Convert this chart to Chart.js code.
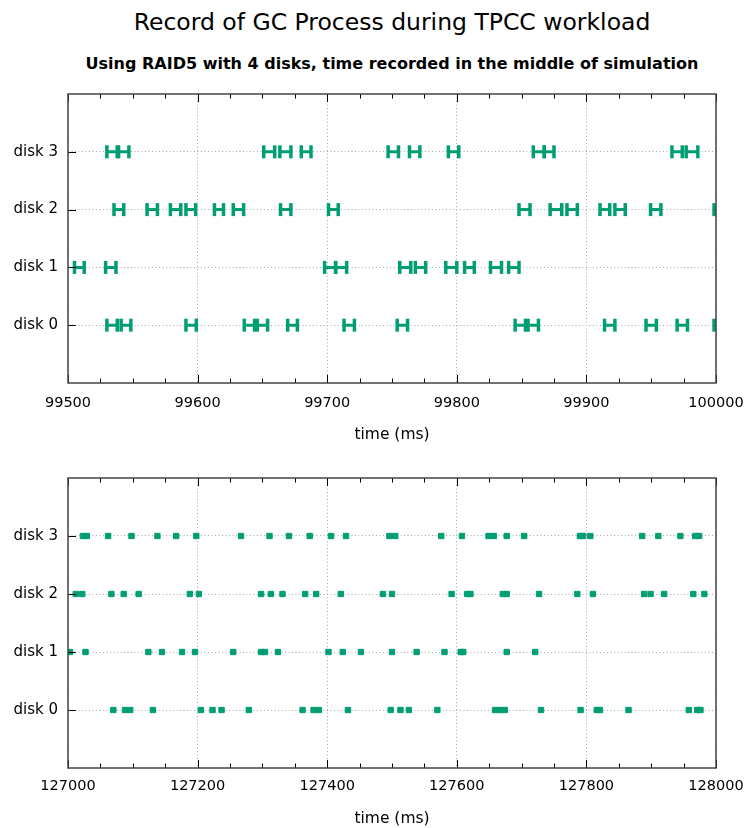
<!DOCTYPE html>
<html>
<head>
<meta charset="utf-8">
<script src="https://cdn.jsdelivr.net/npm/chart.js@4"></script>
<style>
  html, body { margin:0; padding:0; background:#fff; width:747px; height:828px; overflow:hidden; }
  .ttl { position:absolute; left:68px; width:648px; text-align:center; color:#000; font-family:'DejaVu Sans',sans-serif; white-space:nowrap; }
  #t1 { top:6px; font-size:23.5px; line-height:32px; }
  #t2 { top:53px; font-size:16px; line-height:22px; font-weight:bold; }
  .box { position:absolute; left:0; width:747px; }
</style>
</head>
<body>
<div id="t1" class="ttl">Record of GC Process during TPCC workload</div>
<div id="t2" class="ttl">Using RAID5 with 4 disks, time recorded in the middle of simulation</div>
<div class="box" style="top:80px;height:370px"><canvas id="c1"></canvas></div>
<div class="box" style="top:464px;height:364px"><canvas id="c2"></canvas></div>
<script>
// ---------- data ----------
const diskLabels = ['disk 0', 'disk 1', 'disk 2', 'disk 3'];

// top panel: GC intervals [start, end] in ms
const disk0Top = [[99530,99538],[99541,99548.5],[99591,99599],[99636,99644],[99646,99654],[99669.5,99677],[99713,99721],[99754,99762],[99845,99853],[99855,99863],[99914,99922],[99946,99954],[99970,99978],[99998.5,100007]];
const disk1Top = [[99505,99512.5],[99529,99537],[99698,99706.5],[99706.5,99715],[99756,99764.5],[99768,99776],[99791.5,99800],[99806,99813.5],[99826,99834.5],[99840,99848]];
const disk2Top = [[99535.5,99543],[99561,99569],[99579,99587],[99591,99598.5],[99613,99620],[99627.5,99635.5],[99664,99672],[99701,99708.5],[99848,99856.5],[99872,99881],[99885,99893],[99910.5,99918],[99922,99930],[99949.5,99957.5],[99998.5,100007]];
const disk3Top = [[99530,99538],[99539,99547],[99651,99659.5],[99663.5,99672],[99680,99687.5],[99747,99755],[99763.5,99771.5],[99793.5,99801.5],[99859,99867.5],[99867.5,99875],[99966,99974],[99977,99986]];

// bottom panel: GC event times in ms
const disk0Bot = [127070,127088,127096,127131,127205,127223,127237,127279,127362,127379,127387,127432,127498,127513,127526,127570,127659,127667,127674,127730,127791,127816,127821,127865,127958,127971,127976];
const disk1Bot = [127003,127027,127124,127145,127176,127196,127255,127298,127304,127324,127402,127424,127452,127500,127538,127581,127606,127610,127677,127721];
const disk2Bot = [127012,127022,127067,127086,127109,127188,127202,127298,127313,127331,127366,127383,127421,127486,127500,127592,127616,127621,127671,127677,127727,127786,127810,127889,127899,127920,127965,127982];
const disk3Bot = [127023,127029,127062,127098,127138,127167,127198,127267,127311,127341,127373,127406,127429,127496,127505,127576,127608,127649,127657,127677,127704,127790,127795,127806,127886,127911,127945,127968,127974];

// axis ticks
const topXTicks = [99500, 99600, 99700, 99800, 99900, 100000];
const topXMinorStep = 25;
const botXTicks = [127000, 127200, 127400, 127600, 127800, 128000];
const botXMinorStep = 50;
const yTicks = [0, 1, 2, 3];

// ---------- styling ----------
const GREEN = '#009e73';
const FONT = "'DejaVu Sans',sans-serif";

const topIntervals = [disk0Top, disk1Top, disk2Top, disk3Top];
const botEvents = [disk0Bot, disk1Bot, disk2Bot, disk3Bot];

function intervalData(list, d) {
  const out = [];
  list.forEach(([s, e]) => {
    out.push({x: s, y: d}, {x: e, y: d}, {x: e, y: null});
  });
  return out;
}

const framePlugin = {
  id: 'frame',
  afterDraw(chart, args, opts) {
    const {ctx, chartArea: a, scales: {x, y}} = chart;
    const majors = opts.majors;
    ctx.save();
    ctx.strokeStyle = '#000';
    ctx.lineWidth = 1;
    ctx.beginPath();
    const first = majors[0], last = majors[majors.length - 1];
    for (let v = first; v <= last + 1e-6; v += opts.minor) {
      const px = Math.round(x.getPixelForValue(v)) + 0.5;
      const isMajor = majors.some(m => Math.abs(m - v) < 1e-6);
      const L = isMajor ? 8 : 4.5;
      ctx.moveTo(px, a.bottom); ctx.lineTo(px, a.bottom - L);
      ctx.moveTo(px, a.top); ctx.lineTo(px, a.top + L);
    }
    yTicks.forEach(t => {
      const py = Math.round(y.getPixelForValue(t)) + 0.5;
      ctx.moveTo(a.left, py); ctx.lineTo(a.left + 8, py);
    });
    ctx.stroke();
    ctx.strokeStyle = '#444';
    ctx.lineWidth = 1.5;
    ctx.strokeRect(a.left, a.top, a.right - a.left, a.bottom - a.top);
    ctx.restore();
  }
};

function makeOptions(xTicks, minorStep, xAxisHeight, titlePadBottom, labelPad) {
  return {
    responsive: true,
    maintainAspectRatio: false,
    animation: false,
    layout: { padding: { left: 0, right: 31, top: 14, bottom: 0 } },
    plugins: {
      legend: { display: false },
      tooltip: { enabled: false },
      frame: { majors: xTicks, minor: minorStep }
    },
    scales: {
      x: {
        type: 'linear',
        min: xTicks[0],
        max: xTicks[xTicks.length - 1],
        afterBuildTicks: s => { s.ticks = xTicks.map(v => ({value: v})); },
        afterFit: s => { s.height = xAxisHeight; s.paddingLeft = 0; s.paddingRight = 0; },
        ticks: { callback: v => String(v), color: '#000', font: { family: FONT, size: 14.5 }, padding: labelPad, maxRotation: 0, autoSkip: false },
        grid: { color: '#a8a8a8', lineWidth: 1, drawTicks: false },
        border: { display: false, dash: [1, 2.5] },
        title: { display: true, text: 'time (ms)', color: '#000', font: { family: FONT, size: 15.5 }, padding: { top: 0, bottom: titlePadBottom } }
      },
      y: {
        type: 'linear',
        min: -1,
        max: 4,
        afterBuildTicks: s => { s.ticks = yTicks.map(v => ({value: v})); },
        afterFit: s => { s.width = 68; s.paddingTop = 0; s.paddingBottom = 0; },
        ticks: { callback: v => diskLabels[v], color: '#000', font: { family: FONT, size: 15 }, padding: 10 },
        grid: { color: '#a8a8a8', lineWidth: 1, drawTicks: false },
        border: { display: false, dash: [1, 2.5] }
      }
    }
  };
}

// top chart
new Chart(document.getElementById('c1'), {
  type: 'scatter',
  data: {
    datasets: topIntervals.map((list, d) => ({
      data: intervalData(list, d),
      showLine: true,
      spanGaps: false,
      borderColor: GREEN,
      backgroundColor: GREEN,
      borderWidth: 3,
      pointStyle: 'line',
      pointRotation: 90,
      pointRadius: 6.5,
      pointBorderWidth: 3.5,
      pointBorderColor: GREEN,
      pointHoverRadius: 6.5,
      clip: 0
    }))
  },
  options: makeOptions(topXTicks, topXMinorStep, 67, 6, 12),
  plugins: [framePlugin]
});

// bottom chart
new Chart(document.getElementById('c2'), {
  type: 'scatter',
  data: {
    datasets: botEvents.map((list, d) => ({
      data: list.map(t => ({x: t, y: d})),
      showLine: false,
      pointStyle: 'rect',
      pointRadius: 3.8,
      pointBorderWidth: 1,
      pointBorderColor: GREEN,
      pointBackgroundColor: GREEN,
      pointHoverRadius: 3.8,
      clip: 0
    }))
  },
  options: makeOptions(botXTicks, botXMinorStep, 60, 0, 10),
  plugins: [framePlugin]
});
</script>
</body>
</html>
